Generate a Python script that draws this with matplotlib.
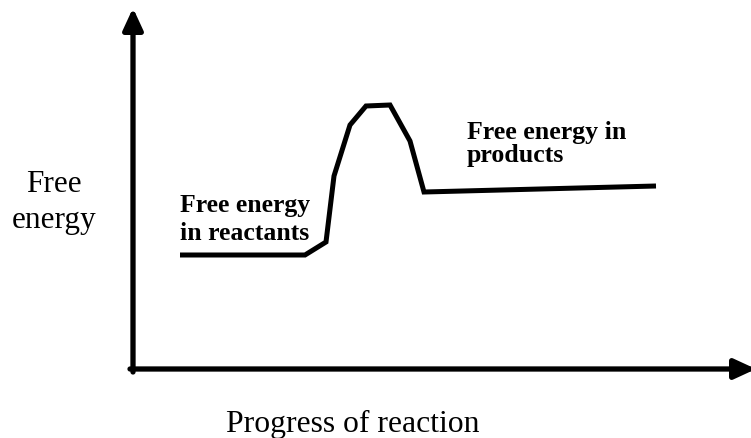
import matplotlib
matplotlib.use("Agg")
import matplotlib.pyplot as plt
from matplotlib.patches import FancyArrowPatch

# Data (progress in arbitrary units, free energy in arbitrary units)
progress = [4.7, 17.2, 19.3, 20.1, 21.7, 23.3, 25.7, 27.7, 29.1, 52.3]
energy = [11.4, 11.4, 12.7, 19.3, 24.4, 26.3, 26.4, 22.8, 17.7, 18.3]

x_label = "Progress of reaction"
y_label_lines = ["Free", "energy"]
reactant_lines = ["Free energy", "in reactants"]
product_lines = ["Free energy in", "products"]

plt.rcParams['font.family'] = ['Liberation Serif', 'DejaVu Serif']

fig = plt.figure(figsize=(7.51, 4.38), dpi=100)
ax = fig.add_axes([0, 0, 1, 1])
ax.set_xlim(-13.3, 61.8)
ax.set_ylim(-6.9, 36.9)
ax.axis('off')

# Axes arrows
for start, end in [((0, -0.3), (0, 36.1)), ((-0.3, 0), (62.3, 0))]:
    arr = FancyArrowPatch(start, end, arrowstyle='-|>,head_length=13,head_width=6',
                          mutation_scale=1, lw=3.8, color='black',
                          shrinkA=0, shrinkB=0, clip_on=False)
    ax.add_patch(arr)

ax.plot(progress, energy, color='black', lw=3.6, solid_joinstyle='miter',
        solid_capstyle='butt')

# Labels
ax.text(-7.9, 17.7, y_label_lines[0], fontsize=22.5, ha='center', va='baseline')
ax.text(-7.9, 14.1, y_label_lines[1], fontsize=22.5, ha='center', va='baseline')
ax.text(22.0, -6.3, x_label, fontsize=22.8, ha='center', va='baseline')

ax.text(4.7, 15.7, reactant_lines[0], fontsize=18.5, fontweight='bold', ha='left', va='baseline')
ax.text(4.7, 12.9, reactant_lines[1], fontsize=18.5, fontweight='bold', ha='left', va='baseline')
ax.text(33.4, 23.0, product_lines[0], fontsize=18.6, fontweight='bold', ha='left', va='baseline')
ax.text(33.4, 20.7, product_lines[1], fontsize=18.6, fontweight='bold', ha='left', va='baseline')

fig.savefig("out.png", dpi=100)
